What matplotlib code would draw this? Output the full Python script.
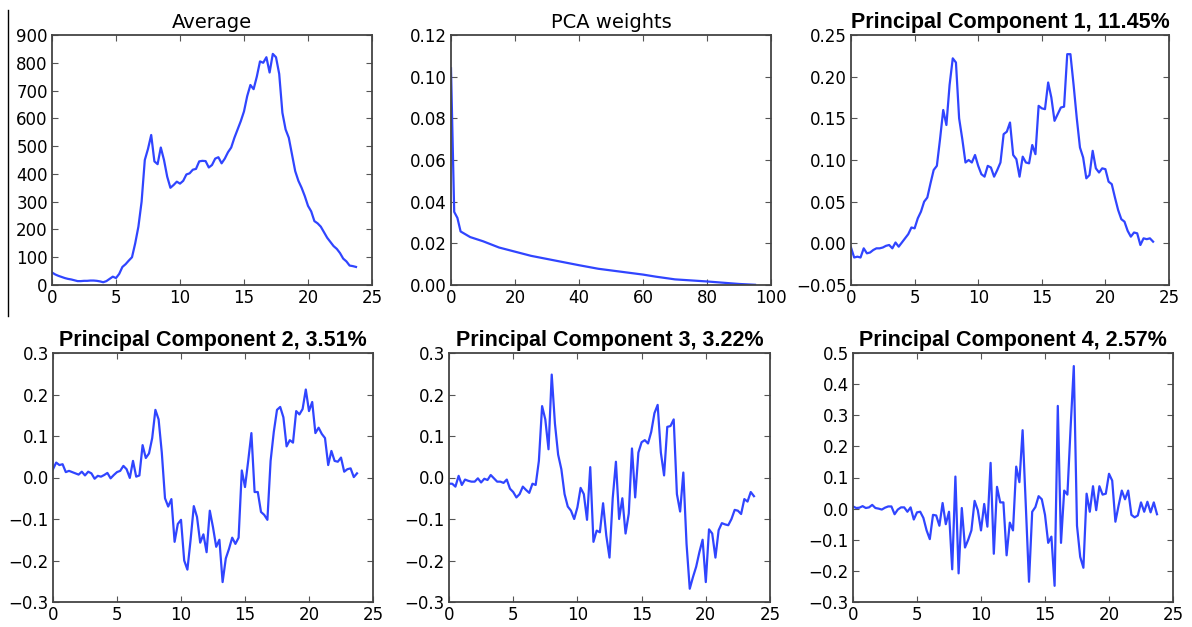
import matplotlib
matplotlib.use("Agg")
import matplotlib.pyplot as plt
from matplotlib.lines import Line2D

hours = [i * 0.25 for i in range(96)]

average = [45, 38, 33, 29, 25, 22, 20, 17, 14, 14, 15, 15, 16, 16, 15, 13,
           10, 14, 22, 30, 25, 40, 65, 75, 88, 100, 150, 210, 300, 450, 490, 540,
           445, 435, 495, 450, 390, 350, 360, 372, 365, 375, 398, 402, 415, 418, 445, 447,
           446, 423, 432, 455, 460, 438, 455, 478, 495, 530, 560, 590, 625, 680, 720, 705,
           750, 805, 800, 820, 765, 832, 820, 760, 620, 560, 530, 470, 410, 375, 350, 320,
           285, 265, 230, 222, 210, 190, 170, 155, 140, 130, 115, 95, 85, 70, 68, 65]

pca_idx = [0, 1, 2, 3, 6, 10, 15, 20, 25, 30, 40, 46, 50, 60, 64, 70, 80, 90, 95]
pca_weights = [0.104, 0.0351, 0.0322, 0.0257, 0.023, 0.021, 0.018, 0.016, 0.014,
               0.0125, 0.0095, 0.0078, 0.007, 0.005, 0.004, 0.0027, 0.0017, 0.0005, 0.0001]

pc1 = [-0.005, -0.017, -0.016, -0.017, -0.006, -0.012, -0.011, -0.008, -0.006, -0.006, -0.005, -0.003,
       -0.002, -0.006, 0.001, -0.004, 0.001, 0.006, 0.011, 0.019, 0.018, 0.030, 0.038, 0.050,
       0.055, 0.072, 0.088, 0.093, 0.125, 0.160, 0.142, 0.190, 0.222, 0.217, 0.150, 0.125,
       0.097, 0.100, 0.097, 0.106, 0.093, 0.083, 0.080, 0.093, 0.091, 0.080, 0.088, 0.097,
       0.131, 0.134, 0.145, 0.106, 0.101, 0.080, 0.104, 0.097, 0.096, 0.118, 0.107, 0.165,
       0.162, 0.161, 0.193, 0.175, 0.147, 0.155, 0.163, 0.164, 0.227, 0.227, 0.190, 0.150,
       0.115, 0.103, 0.078, 0.082, 0.111, 0.090, 0.085, 0.090, 0.089, 0.074, 0.071, 0.055,
       0.040, 0.029, 0.026, 0.015, 0.008, 0.013, 0.012, -0.002, 0.006, 0.005, 0.006, 0.002]

pc2 = [0.020, 0.036, 0.030, 0.032, 0.013, 0.016, 0.013, 0.010, 0.007, 0.014, 0.005, 0.014,
       0.010, -0.003, 0.004, 0.002, 0.006, 0.011, -0.002, 0.006, 0.013, 0.016, 0.028, 0.020,
       -0.001, 0.040, 0.002, 0.005, 0.078, 0.047, 0.058, 0.095, 0.163, 0.140, 0.060, -0.050,
       -0.070, -0.052, -0.155, -0.112, -0.102, -0.200, -0.222, -0.150, -0.069, -0.095, -0.157, -0.137,
       -0.180, -0.080, -0.120, -0.167, -0.150, -0.252, -0.195, -0.172, -0.145, -0.160, -0.145, 0.017,
       -0.023, 0.040, 0.107, -0.035, -0.035, -0.083, -0.090, -0.102, 0.040, 0.110, 0.163, 0.170,
       0.145, 0.075, 0.090, 0.084, 0.160, 0.152, 0.165, 0.212, 0.160, 0.182, 0.107, 0.120,
       0.105, 0.095, 0.030, 0.064, 0.040, 0.038, 0.048, 0.014, 0.020, 0.022, 0.001, 0.010]

pc3 = [-0.015, -0.015, -0.022, 0.004, -0.018, -0.005, -0.008, -0.010, -0.010, -0.002, -0.012, -0.003,
       -0.006, 0.006, -0.002, -0.010, -0.010, -0.013, -0.005, -0.027, -0.035, -0.048, -0.040, -0.022,
       -0.030, -0.037, -0.015, -0.018, 0.040, 0.172, 0.140, 0.068, 0.248, 0.130, 0.055, 0.020,
       -0.040, -0.070, -0.080, -0.100, -0.072, -0.025, -0.040, -0.102, 0.025, -0.155, -0.128, -0.132,
       -0.062, -0.140, -0.193, -0.050, 0.038, -0.100, -0.050, -0.135, -0.087, 0.070, -0.048, 0.060,
       0.085, 0.090, 0.082, 0.110, 0.155, 0.175, 0.060, 0.005, 0.122, 0.124, 0.140, -0.040,
       -0.082, 0.012, -0.160, -0.268, -0.240, -0.215, -0.180, -0.150, -0.252, -0.125, -0.135, -0.193,
       -0.127, -0.110, -0.113, -0.115, -0.100, -0.078, -0.080, -0.088, -0.052, -0.058, -0.035, -0.045]

pc4 = [0.007, 0.002, 0.003, 0.008, 0.002, 0.004, 0.012, 0.002, 0.000, -0.003, 0.003, 0.007,
       0.007, -0.018, -0.003, 0.004, 0.004, -0.010, 0.004, -0.035, -0.012, -0.010, -0.030, -0.070,
       -0.098, -0.020, -0.022, -0.055, 0.018, -0.050, -0.010, -0.195, 0.103, -0.208, 0.002, -0.125,
       -0.100, -0.070, 0.025, -0.005, -0.070, 0.015, -0.058, 0.147, -0.145, 0.070, 0.020, 0.020,
       -0.150, -0.045, -0.070, 0.135, 0.085, 0.252, 0.010, -0.235, -0.010, 0.005, 0.040, 0.030,
       -0.020, -0.110, -0.090, -0.248, 0.330, -0.110, 0.058, 0.045, 0.260, 0.458, -0.055, -0.155,
       -0.190, 0.048, -0.010, 0.072, -0.005, 0.072, 0.045, 0.048, 0.112, 0.090, -0.042, 0.010,
       0.058, 0.030, 0.058, -0.020, -0.028, -0.022, 0.020, -0.010, 0.022, -0.012, 0.020, -0.018]

titles = ["Average", "PCA weights", "Principal Component 1, 11.45%",
          "Principal Component 2, 3.51%", "Principal Component 3, 3.22%",
          "Principal Component 4, 2.57%"]
bold_title = [False, False, True, True, True, True]

ylims = [(0, 900), (0, 0.12), (-0.05, 0.25), (-0.3, 0.3), (-0.3, 0.3), (-0.3, 0.5)]
yticks = [[0, 100, 200, 300, 400, 500, 600, 700, 800, 900],
          [0.00, 0.02, 0.04, 0.06, 0.08, 0.10, 0.12],
          [-0.05, 0.00, 0.05, 0.10, 0.15, 0.20, 0.25],
          [-0.3, -0.2, -0.1, 0.0, 0.1, 0.2, 0.3],
          [-0.3, -0.2, -0.1, 0.0, 0.1, 0.2, 0.3],
          [-0.3, -0.2, -0.1, 0.0, 0.1, 0.2, 0.3, 0.4, 0.5]]
yfmt = ["{:.0f}", "{:.2f}", "{:.2f}", "{:.1f}", "{:.1f}", "{:.1f}"]
xticks_h = [0, 5, 10, 15, 20, 25]
xticks_w = [0, 20, 40, 60, 80, 100]

W, H = 1192, 627
fig = plt.figure(figsize=(W / 100, H / 100), dpi=100)
fig.patch.set_facecolor("white")

# axes rectangles in pixels: left, top, right, bottom
boxes = [(52, 35, 372, 285), (451, 35, 771, 285), (851, 35, 1169, 285),
         (53, 353, 373, 602), (449, 353, 770, 602), (853, 353, 1173, 602)]

series = [(hours, average), (pca_idx, pca_weights), (hours, pc1),
          (hours, pc2), (hours, pc3), (hours, pc4)]

line_color = "#3045ff"
for k, (box, (xs, ys)) in enumerate(zip(boxes, series)):
    l, t, r, b = box
    ax = fig.add_axes([l / W, 1 - b / H, (r - l) / W, (b - t) / H])
    ax.plot(xs, ys, color=line_color, lw=1.6)
    ax.set_ylim(*ylims[k])
    if k == 1:
        ax.set_xlim(0, 100)
        ax.set_xticks(xticks_w)
        ax.set_xticklabels([str(v) for v in xticks_w])
    else:
        ax.set_xlim(0, 25)
        ax.set_xticks(xticks_h)
        ax.set_xticklabels([str(v) for v in xticks_h])
    ax.set_yticks(yticks[k])
    labels = []
    for v in yticks[k]:
        s = yfmt[k].format(v)
        if s.startswith("-"):
            s = "\u2212" + s[1:]
        labels.append(s)
    ax.set_yticklabels(labels)
    ax.tick_params(direction="in", top=True, right=True, length=4, width=0.8,
                   colors="#555555", labelcolor="black", labelsize=12,
                   pad=3)
    for lab in ax.get_xticklabels() + ax.get_yticklabels():
        lab.set_family("DejaVu Sans")
    for sp in ax.spines.values():
        sp.set_color("#444444")
        sp.set_linewidth(1.3)
    if bold_title[k]:
        ax.set_title(titles[k], fontsize=15.5, fontweight="bold",
                     family="Liberation Sans", pad=5)
    else:
        ax.set_title(titles[k], fontsize=14, family="DejaVu Sans", pad=5)

# stray vertical rule at the left edge of the original image
fig.add_artist(Line2D([8 / W, 8 / W], [1 - 10 / H, 1 - 316 / H],
                      transform=fig.transFigure, color="black", lw=1))

fig.savefig("out.png", dpi=100, facecolor="white")
